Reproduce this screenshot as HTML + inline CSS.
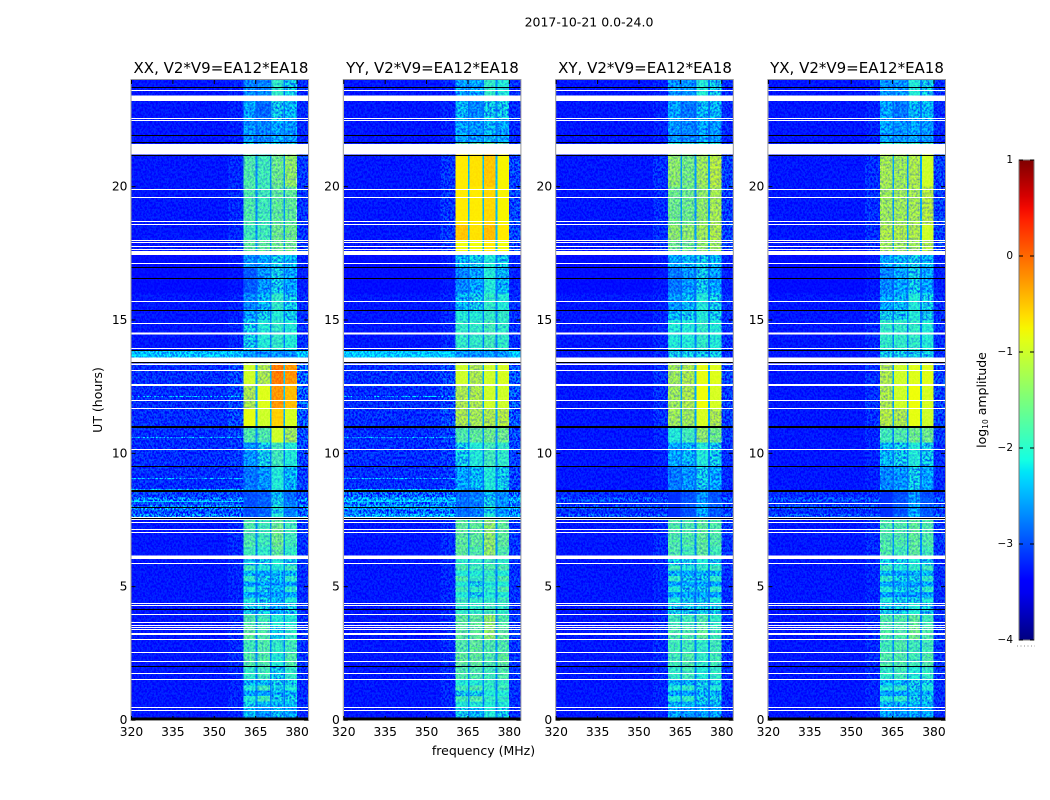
<!DOCTYPE html>
<html>
<head>
<meta charset="utf-8">
<title>2017-10-21 spectrogram</title>
<style>
html,body{margin:0;padding:0;background:#fff;}
svg{display:block;font-family:"DejaVu Sans","Liberation Sans",sans-serif;}
text{fill:#000;}
</style>
</head>
<body>
<svg id="chart" xmlns="http://www.w3.org/2000/svg" width="1050" height="800" viewBox="0 0 1050 800" style="isolation:isolate">
  <defs>
    <filter id="grain" x="0" y="0" width="100%" height="100%" color-interpolation-filters="sRGB">
      <feTurbulence type="fractalNoise" baseFrequency="0.55 0.42" numOctaves="2" seed="7"/>
      <feColorMatrix type="matrix" values="4 0 0 0 -1.5  4 0 0 0 -1.5  4 0 0 0 -1.5  0 0 0 0 1"/>
    </filter>
    <filter id="band-grain" x="0" y="0" width="100%" height="100%" color-interpolation-filters="sRGB">
      <feTurbulence type="fractalNoise" baseFrequency="0.5 0.42" numOctaves="2" seed="11"/>
      <feColorMatrix type="matrix" values="0 0 0 0 0  0 0 0 0 0.15  0 0 0 0 1  2.0 0 0 0 -0.75"/>
    </filter>
    <linearGradient id="jet-gradient" x1="0" y1="1" x2="0" y2="0"></linearGradient>
  </defs>
  <rect x="0" y="0" width="1050" height="800" fill="#fff"/>
  <text x="589" y="26.5" font-size="12.5" text-anchor="middle">2017-10-21 0.0-24.0</text>
  <text x="221" y="73" font-size="15" text-anchor="middle">XX, V2*V9=EA12*EA18</text>
  <text x="432.5" y="73" font-size="15" text-anchor="middle">YY, V2*V9=EA12*EA18</text>
  <text x="645" y="73" font-size="15" text-anchor="middle">XY, V2*V9=EA12*EA18</text>
  <text x="857" y="73" font-size="15" text-anchor="middle">YX, V2*V9=EA12*EA18</text>
  <text transform="translate(102 400) rotate(-90)" font-size="12.5" text-anchor="middle">UT (hours)</text>
  <text x="483.5" y="755" font-size="12.5" text-anchor="middle">frequency (MHz)</text>
  <text transform="translate(986 400) rotate(-90)" font-size="12.5" text-anchor="middle">log<tspan font-size="7.5" dy="2">10</tspan><tspan dy="-2"> amplitude</tspan></text>
  <g id="panels"></g>
  <g id="colorbar"></g>
</svg>
<script>
// ---------- data ----------
const freqTicks = [320, 335, 350, 365, 380];
const hourTicks = [0, 5, 10, 15, 20];
const colorbarTicks = [1, 0, -1, -2, -3, -4];
const colorbarLabels = ['1', '0', '\u22121', '\u22122', '\u22123', '\u22124'];
const panelNames = ['xx', 'yy', 'xy', 'yx'];

// frequency limits (MHz)
const freqRange = [320, 384];
const hourRange = [0, 24];
const valueRange = [-4, 1];
const shoulderStart = 355;
const channelLow = [360.5, 365.6, 370.8, 375.7];
const channelHigh = [365, 370.2, 375, 379.9];

// time-band start hours; last entry closes the final band
const hourEdges = [0, .46, .7, .9, 1.1, 1.3, 1.52, 2, 2.5, 3, 3.5, 3.96, 4.4, 4.6, 4.8, 5, 5.2, 5.4, 5.6, 5.8, 6.03, 6.5, 7.3,
  7.6, 7.75, 7.9, 8.05, 8.2, 8.35, 8.58, 9.51, 10.4, 10.98, 11.69, 12.6, 13.31, 13.6, 13.84, 15, 15.36, 16, 16.98, 17.44, 18, 18.6, 20, 21.2, 21.66, 22.5, 23.2, 24];

// log10 amplitude per time band: [background, channel1, channel2, channel3, channel4]
const xxRows = [
[-3.2,-2.1,-2.3,-2.1,-2.2],[-3.2,-2.0,-2.1,-2.1,-2.1],[-3.2,-1.9,-1.7,-2.0,-2.0],[-3.2,-2.2,-2.2,-2.1,-2.1],[-3.2,-1.9,-1.7,-2.0,-1.9],[-3.2,-2.1,-2.1,-2.0,-2.0],
[-3.2,-1.8,-1.7,-2.0,-1.8],[-3.2,-1.6,-1.6,-1.9,-1.6],[-3.2,-1.7,-1.6,-1.8,-1.7],[-3.2,-1.5,-1.6,-2.0,-1.8],[-3.2,-1.6,-1.7,-1.9,-1.9],[-3.2,-2.0,-2.0,-2.2,-2.0],
[-3.2,-1.9,-2.0,-2.1,-1.9],[-3.2,-2.2,-2.2,-2.2,-2.2],[-3.2,-1.9,-2.0,-2.1,-1.8],[-3.2,-2.2,-2.2,-2.2,-2.2],[-3.2,-1.8,-2.0,-2.1,-1.8],[-3.2,-2.1,-2.2,-2.1,-2.1],[-3.2,-1.7,-1.9,-1.9,-1.7],[-3.2,-2.0,-2.0,-1.9,-2.0],
[-3.2,-1.7,-1.8,-1.5,-1.8],[-3.2,-1.6,-1.7,-1.4,-1.7],[-3.2,-1.6,-1.7,-1.5,-1.7],
[-2.75,-2.7,-2.6,-1.9,-2.4],[-2.95,-2.8,-2.7,-2.0,-2.5],[-2.7,-2.7,-2.6,-1.9,-2.4],[-2.95,-2.8,-2.7,-2.0,-2.5],[-2.75,-2.7,-2.6,-2.0,-2.5],[-3.0,-2.8,-2.7,-2.1,-2.6],
[-3.1,-2.5,-2.3,-1.9,-2.1],[-3.1,-2.3,-2.0,-1.7,-1.9],[-3.1,-1.6,-1.6,-1.0,-1.2],[-3.1,-0.85,-1.0,-0.55,-0.95],[-3.1,-1.1,-0.9,-0.25,-0.45],[-3.1,-1.0,-1.1,-0.1,-0.25],[-3.1,-1.1,-1.2,-0.3,-0.4],
[-2.4,-2.3,-2.3,-2.3,-2.3],[-3.2,-2.0,-1.9,-1.8,-1.9],[-3.2,-2.2,-2.0,-1.9,-2.0],[-3.2,-2.4,-2.1,-1.8,-2.0],[-3.25,-2.7,-2.3,-2.0,-2.2],[-3.25,-2.3,-2.2,-2.0,-2.1],
[-3.2,-1.5,-1.5,-1.4,-1.4],[-3.2,-1.7,-1.7,-1.4,-1.4],[-3.2,-1.6,-1.7,-1.5,-1.5],[-3.2,-1.6,-1.7,-1.4,-1.3],[-3.2,-2.0,-2.0,-2.0,-2.0],
[-3.2,-2.3,-2.4,-2.2,-2.3],[-3.2,-2.2,-2.6,-2.0,-2.1],[-3.2,-2.4,-2.4,-1.8,-2.0]
];
const yyRows = [
[-3.2,-2.0,-2.1,-1.9,-2.0],[-3.2,-1.9,-1.9,-1.9,-1.9],[-3.2,-1.7,-1.6,-1.8,-1.8],[-3.2,-2.0,-2.0,-1.9,-1.9],[-3.2,-1.7,-1.6,-1.8,-1.7],[-3.2,-1.9,-1.9,-1.8,-1.8],
[-3.2,-1.6,-1.6,-1.7,-1.6],[-3.2,-1.5,-1.5,-1.6,-1.5],[-3.2,-1.6,-1.5,-1.6,-1.6],[-3.2,-1.5,-1.5,-1.3,-1.5],[-3.2,-1.5,-1.5,-1.3,-1.6],[-3.2,-1.8,-1.8,-1.7,-1.8],
[-3.2,-1.7,-1.8,-1.8,-1.7],[-3.2,-1.9,-2.0,-1.9,-1.9],[-3.2,-1.7,-1.8,-1.8,-1.6],[-3.2,-1.9,-2.0,-1.9,-1.9],[-3.2,-1.6,-1.8,-1.7,-1.6],[-3.2,-1.9,-1.9,-1.8,-1.9],[-3.2,-1.6,-1.7,-1.6,-1.6],[-3.2,-1.8,-1.8,-1.7,-1.8],
[-3.2,-1.5,-1.6,-1.3,-1.6],[-3.2,-1.5,-1.5,-1.3,-1.5],[-3.2,-1.5,-1.5,-1.3,-1.5],
[-2.55,-2.5,-2.4,-1.9,-2.2],[-2.85,-2.6,-2.5,-2.0,-2.3],[-2.5,-2.5,-2.4,-1.9,-2.2],[-2.8,-2.6,-2.5,-2.0,-2.3],[-2.55,-2.5,-2.4,-2.0,-2.3],[-2.85,-2.6,-2.5,-2.1,-2.4],
[-3.1,-2.2,-2.1,-1.9,-2.0],[-3.1,-2.0,-1.9,-1.7,-1.8],[-3.1,-1.6,-1.5,-1.4,-1.4],[-3.1,-1.1,-1.15,-1.1,-1.05],[-3.1,-1.1,-1.1,-1.0,-1.0],[-3.1,-1.0,-1.1,-1.0,-0.95],[-3.1,-1.1,-1.1,-1.0,-1.0],
[-2.35,-2.3,-2.3,-2.3,-2.3],[-3.2,-1.8,-1.8,-1.7,-1.8],[-3.2,-1.9,-1.9,-1.8,-1.8],[-3.2,-2.1,-2.0,-1.8,-1.9],[-3.25,-2.4,-2.2,-1.9,-2.1],[-3.25,-2.1,-2.0,-1.9,-2.0],
[-3.2,-0.8,-0.8,-0.7,-0.8],[-3.2,-0.5,-0.65,-0.45,-0.7],[-3.2,-0.7,-0.7,-0.6,-0.75],[-3.2,-0.7,-0.65,-0.5,-0.75],[-3.2,-1.5,-1.5,-1.5,-1.5],
[-3.2,-2.2,-2.3,-2.1,-2.2],[-3.2,-2.1,-2.4,-2.0,-2.0],[-3.2,-2.2,-2.2,-1.8,-1.9]
];
const xyRows = [
[-3.2,-2.2,-2.3,-2.2,-2.2],[-3.2,-2.1,-2.1,-2.1,-2.1],[-3.2,-1.9,-1.8,-2.0,-2.0],[-3.2,-2.2,-2.2,-2.1,-2.1],[-3.2,-1.9,-1.8,-2.0,-1.9],[-3.2,-2.1,-2.1,-2.0,-2.0],
[-3.2,-1.8,-1.7,-1.9,-1.8],[-3.2,-1.7,-1.6,-1.8,-1.7],[-3.2,-1.7,-1.7,-1.8,-1.7],[-3.2,-1.6,-1.6,-1.5,-1.7],[-3.2,-1.7,-1.7,-1.6,-1.8],[-3.2,-2.0,-2.0,-2.0,-2.0],
[-3.2,-1.9,-2.0,-2.0,-1.9],[-3.2,-2.2,-2.2,-2.2,-2.2],[-3.2,-1.9,-2.0,-2.0,-1.8],[-3.2,-2.2,-2.2,-2.2,-2.2],[-3.2,-1.8,-2.0,-2.0,-1.8],[-3.2,-2.1,-2.2,-2.1,-2.1],[-3.2,-1.7,-1.9,-1.8,-1.7],[-3.2,-2.0,-2.0,-1.9,-2.0],
[-3.2,-1.6,-1.7,-1.5,-1.7],[-3.2,-1.6,-1.6,-1.5,-1.6],[-3.2,-1.6,-1.6,-1.5,-1.6],
[-2.95,-3.0,-2.7,-2.2,-2.7],[-3.1,-3.0,-2.8,-2.2,-2.7],[-2.95,-3.0,-2.7,-2.2,-2.7],[-3.1,-3.0,-2.8,-2.3,-2.7],[-2.95,-3.0,-2.7,-2.3,-2.7],[-3.1,-3.0,-2.8,-2.3,-2.8],
[-3.2,-2.5,-2.3,-2.0,-2.2],[-3.2,-2.2,-2.1,-1.9,-2.0],[-3.2,-1.9,-1.7,-1.3,-1.4],[-3.2,-1.2,-1.2,-0.95,-1.1],[-3.2,-1.2,-1.1,-0.8,-0.95],[-3.2,-1.2,-1.1,-0.85,-0.9],[-3.2,-1.3,-1.2,-1.0,-1.0],
[-3.2,-2.0,-2.0,-2.0,-2.0],[-3.2,-1.9,-1.9,-1.8,-1.9],[-3.2,-2.1,-2.0,-1.9,-2.0],[-3.2,-2.3,-2.1,-1.9,-2.0],[-3.25,-2.5,-2.3,-2.0,-2.2],[-3.25,-2.2,-2.1,-2.0,-2.1],
[-3.2,-1.4,-1.4,-1.3,-1.2],[-3.2,-1.3,-1.3,-1.2,-1.1],[-3.2,-1.4,-1.4,-1.3,-1.15],[-3.2,-1.3,-1.35,-1.2,-1.05],[-3.2,-1.9,-1.9,-1.9,-1.9],
[-3.2,-2.3,-2.4,-2.2,-2.3],[-3.2,-2.2,-2.5,-2.1,-2.1],[-3.2,-2.3,-2.3,-1.9,-2.0]
];
const yxRows = [
[-3.2,-2.2,-2.3,-2.2,-2.2],[-3.2,-2.1,-2.1,-2.1,-2.1],[-3.2,-1.9,-1.8,-2.0,-2.0],[-3.2,-2.2,-2.2,-2.1,-2.1],[-3.2,-1.9,-1.8,-2.0,-1.9],[-3.2,-2.1,-2.1,-2.0,-2.0],
[-3.2,-1.8,-1.7,-1.9,-1.8],[-3.2,-1.6,-1.6,-1.7,-1.6],[-3.2,-1.7,-1.6,-1.7,-1.7],[-3.2,-1.6,-1.6,-1.4,-1.6],[-3.2,-1.6,-1.6,-1.5,-1.7],[-3.2,-2.0,-2.0,-1.9,-2.0],
[-3.2,-1.9,-2.0,-2.0,-1.9],[-3.2,-2.2,-2.2,-2.2,-2.2],[-3.2,-1.9,-2.0,-2.0,-1.8],[-3.2,-2.2,-2.2,-2.2,-2.2],[-3.2,-1.8,-2.0,-2.0,-1.8],[-3.2,-2.1,-2.2,-2.1,-2.1],[-3.2,-1.7,-1.9,-1.8,-1.7],[-3.2,-2.0,-2.0,-1.9,-2.0],
[-3.2,-1.6,-1.7,-1.5,-1.7],[-3.2,-1.6,-1.6,-1.5,-1.6],[-3.2,-1.6,-1.6,-1.5,-1.6],
[-2.95,-3.0,-2.7,-2.2,-2.7],[-3.1,-3.0,-2.8,-2.2,-2.7],[-2.95,-3.0,-2.7,-2.2,-2.7],[-3.1,-3.0,-2.8,-2.3,-2.7],[-2.95,-3.0,-2.7,-2.3,-2.7],[-3.1,-3.0,-2.8,-2.3,-2.8],
[-3.2,-2.4,-2.3,-2.0,-2.2],[-3.2,-2.1,-2.0,-1.9,-2.0],[-3.2,-1.7,-1.6,-1.4,-1.4],[-3.2,-1.05,-1.1,-0.85,-1.0],[-3.2,-1.1,-1.0,-0.8,-0.95],[-3.2,-1.1,-1.0,-0.9,-0.9],[-3.2,-1.2,-1.1,-1.0,-1.0],
[-3.2,-2.0,-2.0,-2.0,-2.0],[-3.2,-1.8,-1.8,-1.8,-1.9],[-3.2,-2.0,-2.0,-1.9,-2.0],[-3.2,-2.2,-2.1,-1.9,-2.0],[-3.25,-2.4,-2.2,-2.0,-2.2],[-3.25,-2.2,-2.1,-2.0,-2.1],
[-3.2,-1.2,-1.2,-1.2,-1.1],[-3.2,-1.1,-1.1,-1.1,-1.0],[-3.2,-1.2,-1.2,-1.15,-1.05],[-3.2,-1.15,-1.2,-1.1,-1.0],[-3.2,-1.8,-1.8,-1.8,-1.8],
[-3.2,-2.2,-2.3,-2.2,-2.3],[-3.2,-2.2,-2.5,-2.1,-2.1],[-3.2,-2.3,-2.3,-1.9,-2.0]
];
const panelRows = [xxRows, yyRows, xyRows, yxRows];

// flagged (blank) integrations, hours
const flagLines = [23.59,22.56,22.47,21.66,19.90,19.61,18.70,18.60,17.99,17.89,17.75,17.66,17.13,15.71,14.88,13.94,13.09,12.59,12.54,11.99,11.69,10.16,7.42,7.14,7.02,5.88,4.38,4.28,3.96,3.65,3.56,3.48,3.39,3.24,3.19,3.03,2.52,2.20,1.75,1.52,0.46,0.375];
const flagBlockStart = [23.21,21.20,17.44,14.45,13.43,13.31,7.50,6.03];
const flagBlockEnd = [23.41,21.60,17.58,14.54,13.60,13.37,7.61,6.16];
// flagged only in the cross-hand panels
const crossFlagLines = [8.12];
// fully dark (zero) integrations, hours
const darkLines = [23.71,21.91,21.64,21.18,16.98,16.57,15.36,13.84,13.39,9.51,7.97,7.56,4.15,1.99];
const darkThickLines = [10.98,8.58];
const darkBlockStart = [0];
const darkBlockEnd = [0.1];
// single bright background integrations in the parallel-hand panels
const brightHours = [12.14,10.61,9.07,8.65,8.18];
const brightValues = [-2.75,-2.7,-2.65,-2.55,-2.35];

// ---------- scales ----------
const plotTop = 80, plotBottom = 720, plotWidth = 176.6;
const panelLeft = [131.5, 343.8, 556.2, 768.4];
const shoulderFactor = 0.05, tailFactor = 0.08;
const backgroundTrim = -0.07, gapBase = -2.85, gapSlope = 0.25, gapPivot = -2.2;
const dimTrim = -0.12, dimBelow = -1.3, softNoiseBelow = -1.0, hardNoiseBelow = -1.9;
const NS = 'http://www.w3.org/2000/svg';

function xScale(panel, mhz) {
  return panelLeft[panel] + (mhz - freqRange[0]) / (freqRange[1] - freqRange[0]) * plotWidth;
}
function yScale(hour) {
  return plotBottom - (hour - hourRange[0]) / (hourRange[1] - hourRange[0]) * (plotBottom - plotTop);
}
function jetPart(t, xs, ys) {
  if (t <= xs[0]) return ys[0];
  for (let i = 1; i < xs.length; i++) {
    if (t <= xs[i]) return ys[i - 1] + (ys[i] - ys[i - 1]) * (t - xs[i - 1]) / (xs[i] - xs[i - 1]);
  }
  return ys[ys.length - 1];
}
function color(value) {
  const t = Math.max(0, Math.min(1, (value - valueRange[0]) / (valueRange[1] - valueRange[0])));
  const r = jetPart(t, [.35, .66, .89, 1], [0, 1, 1, .5]);
  const g = jetPart(t, [.125, .375, .64, .91], [0, 1, 1, 0]);
  const b = jetPart(t, [0, .11, .34, .65], [.5, 1, 1, 0]);
  return 'rgb(' + Math.round(r * 255) + ',' + Math.round(g * 255) + ',' + Math.round(b * 255) + ')';
}
function make(tag, attrs, parent) {
  const el = document.createElementNS(NS, tag);
  for (const k in attrs) el.setAttribute(k, attrs[k]);
  parent.appendChild(el);
  return el;
}

// ---------- panels ----------
const panelsGroup = document.getElementById('panels');
const svgDefs = document.querySelector('#chart defs');

function drawCell(group, panel, x0, x1, h0, h1, value) {
  const left = xScale(panel, x0), right = xScale(panel, x1);
  const top = yScale(h1), bottom = yScale(h0);
  const cell = make('rect', {x: left, y: top, width: right - left, height: bottom - top, fill: color(value), 'shape-rendering': 'crispEdges'}, group);
  
  
}
function drawRow(group, panel, hour, tall, fill, name) {
  const row = make('rect', {x: panelLeft[panel], y: Math.round(yScale(hour) - tall / 2), width: plotWidth, height: tall, fill: fill, 'shape-rendering': 'crispEdges'}, group);
  
  
}
function drawGrain(group, panel, f0, f1, strength) {
  const layer = make('rect', {x: xScale(panel, f0), y: plotTop, width: xScale(panel, f1) - xScale(panel, f0), height: plotBottom - plotTop, filter: 'url(#grain)', opacity: strength, style: 'mix-blend-mode:overlay'}, group);
  
  
}
function addClipCell(clip, panel, c, h0, h1) {
  const clipCell = make('rect', {x: xScale(panel, channelLow[c]), y: yScale(h1), width: xScale(panel, channelHigh[c]) - xScale(panel, channelLow[c]), height: yScale(h0) - yScale(h1)}, clip);
  
  
}
function drawBandGrain(group, panel, clipId, strength) {
  const clipped = make('g', {'clip-path': 'url(#' + clipId + ')', opacity: strength}, group);
  
  
  const layer = make('rect', {x: xScale(panel, channelLow[0]), y: plotTop, width: xScale(panel, channelHigh[3]) - xScale(panel, channelLow[0]), height: plotBottom - plotTop, filter: 'url(#band-grain)'}, clipped);
  
  
}

panelNames.forEach(function (name, p) {
  const group = make('g', {}, panelsGroup);
  
  
  const rows = panelRows[p];

  const softClipId = 'soft-bands-' + name;
  const hardClipId = 'hard-bands-' + name;
  const softClip = make('clipPath', {id: softClipId}, svgDefs);
  
  
  const hardClip = make('clipPath', {id: hardClipId}, svgDefs);
  
  

  rows.forEach(function (row, i) {
    const h0 = hourEdges[i], h1 = hourEdges[i + 1];
    const bg = row[0] + backgroundTrim;
    drawCell(group, p, freqRange[0], shoulderStart, h0, h1, bg);
    drawCell(group, p, shoulderStart, channelLow[0], h0, h1, bg + (row[1] - bg) * shoulderFactor);
    for (let c = 0; c < 4; c++) {
      const v = row[c + 1];
      drawCell(group, p, channelLow[c], channelHigh[c], h0, h1, v < dimBelow ? v + dimTrim : v);
      if (v < softNoiseBelow) addClipCell(softClip, p, c, h0, h1);
      if (v < hardNoiseBelow) addClipCell(hardClip, p, c, h0, h1);
      if (c < 3) {
        const mean = (row[c + 1] + row[c + 2]) / 2;
        drawCell(group, p, channelHigh[c], channelLow[c + 1], h0, h1, gapBase + gapSlope * (mean - gapPivot));
      }
    }
    drawCell(group, p, channelHigh[3], freqRange[1], h0, h1, bg + (row[4] - bg) * tailFactor);
  });

  if (p < 2) {
    brightHours.forEach(function (h, i) {
      const streak = make('rect', {x: panelLeft[p], y: Math.round(yScale(h) - 0.5), width: xScale(p, channelLow[0]) - panelLeft[p], height: 1, fill: color(brightValues[i]), 'shape-rendering': 'crispEdges'}, group);
      
      
    });
  }

  drawGrain(group, p, freqRange[0], channelLow[0], 1);
  drawGrain(group, p, channelLow[0], channelHigh[3], 0.2);
  drawGrain(group, p, channelHigh[3], freqRange[1], 1);

  drawBandGrain(group, p, softClipId, 0.5);
  drawBandGrain(group, p, hardClipId, 0.9);

  flagLines.forEach(function (h) {
    drawRow(group, p, h, 1, '#fff', 'flagged-row');
  });
  if (p >= 2) {
    crossFlagLines.forEach(function (h) {
      drawRow(group, p, h, 1, '#fff', 'flagged-row');
    });
  }
  flagBlockStart.forEach(function (h, i) {
    const block = make('rect', {x: panelLeft[p], y: yScale(flagBlockEnd[i]), width: plotWidth, height: yScale(h) - yScale(flagBlockEnd[i]), fill: '#fff', 'shape-rendering': 'crispEdges'}, group);
    
    
  });
  darkLines.forEach(function (h) {
    drawRow(group, p, h, 1, '#000', 'dark-row');
  });
  darkThickLines.forEach(function (h) {
    drawRow(group, p, h, 2, '#000', 'dark-row-thick');
  });
  darkBlockStart.forEach(function (h, i) {
    const block = make('rect', {x: panelLeft[p], y: yScale(darkBlockEnd[i]), width: plotWidth, height: yScale(h) - yScale(darkBlockEnd[i]), fill: '#000', 'shape-rendering': 'crispEdges'}, group);
    
    
  });

  const frame = make('rect', {x: panelLeft[p] - 0.5, y: plotTop - 0.5, width: plotWidth + 1, height: plotBottom - plotTop + 1, fill: 'none', stroke: '#9a9a9a', 'stroke-width': 1}, group);
  
  

  freqTicks.forEach(function (f) {
    const x = xScale(p, f);
    const tickBottom = make('line', {x1: x, x2: x, y1: plotBottom, y2: plotBottom - 4, stroke: '#000', 'stroke-width': 1}, group);
    
    
    const tickTop = make('line', {x1: x, x2: x, y1: plotTop, y2: plotTop + 4, stroke: '#000', 'stroke-width': 1}, group);
    
    
    const label = make('text', {x: x, y: 736, 'font-size': 12.3, 'text-anchor': 'middle'}, group);
    
    
    label.textContent = String(f);
  });
  hourTicks.forEach(function (h) {
    const y = yScale(h);
    const tickLeft = make('line', {x1: panelLeft[p], x2: panelLeft[p] + 4, y1: y, y2: y, stroke: '#000', 'stroke-width': 1}, group);
    
    
    const tickRight = make('line', {x1: panelLeft[p] + plotWidth - 4, x2: panelLeft[p] + plotWidth, y1: y, y2: y, stroke: '#000', 'stroke-width': 1}, group);
    
    
    const label = make('text', {x: panelLeft[p] - 4, y: y + 4, 'font-size': 12.3, 'text-anchor': 'end'}, group);
    
    
    label.textContent = String(h);
  });
});

// ---------- colorbar ----------
const barLeft = 1019, barWidth = 15, barTop = 160, barBottom = 640;
const gradient = document.getElementById('jet-gradient');
const gradientSteps = 40;
for (let i = 0; i <= gradientSteps; i++) {
  const stop = make('stop', {offset: (i / gradientSteps), 'stop-color': color(valueRange[0] + (valueRange[1] - valueRange[0]) * i / gradientSteps)}, gradient);
  
  
}
const barGroup = document.getElementById('colorbar');
const barRect = make('rect', {x: barLeft, y: barTop, width: barWidth, height: barBottom - barTop, fill: 'url(#jet-gradient)', stroke: '#777', 'stroke-width': 1}, barGroup);



function barY(v) {
  return barBottom - (v - valueRange[0]) / (valueRange[1] - valueRange[0]) * (barBottom - barTop);
}
colorbarTicks.forEach(function (v, i) {
  const y = barY(v);
  const tl = make('line', {x1: barLeft, x2: barLeft + 4, y1: y, y2: y, stroke: '#000', 'stroke-width': 1}, barGroup);
  
  
  const tr = make('line', {x1: barLeft + barWidth - 4, x2: barLeft + barWidth, y1: y, y2: y, stroke: '#000', 'stroke-width': 1}, barGroup);
  
  
  const label = make('text', {x: barLeft - 6, y: y + 3, 'font-size': 10.5, 'text-anchor': 'end'}, barGroup);
  
  
  label.textContent = colorbarLabels[i];
});
const barDots = make('line', {x1: 1017, x2: 1035, y1: 646, y2: 646, stroke: '#888', 'stroke-width': 1, 'stroke-dasharray': '1 2.5'}, barGroup);


</script>
</body>
</html>
